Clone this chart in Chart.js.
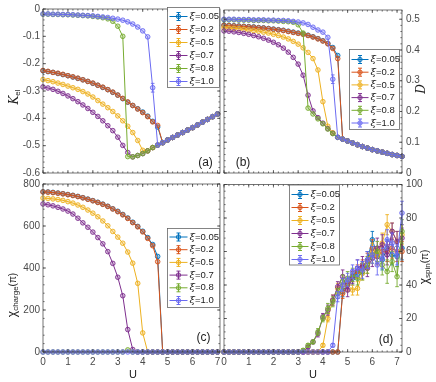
<!DOCTYPE html>
<html>
<head>
<meta charset="utf-8">
<script src="https://cdn.jsdelivr.net/npm/chart.js@4.4.1/dist/chart.umd.min.js"></script>
<style>
  html, body { margin: 0; padding: 0; background: #fff; }
  #wrap { position: relative; width: 436px; height: 382px; }
  #wrap canvas { position: absolute; left: 0; top: 0; }
</style>
</head>
<body>
<div id="wrap">
  <canvas id="pa" width="436" height="382"></canvas>
  <canvas id="pb" width="436" height="382"></canvas>
  <canvas id="pc" width="436" height="382"></canvas>
  <canvas id="pd" width="436" height="382"></canvas>
</div>
<script>
// ---- data ----
const U_LEFT = [0,0.2,0.4,0.6,0.8,1,1.2,1.4,1.6,1.8,2,2.2,2.4,2.6,2.8,3,3.2,3.4,3.6,3.8,4,4.2,4.4,4.6,4.8,5,5.2,5.4,5.6,5.8,6,6.2,6.4,6.6,6.8,7];
const U_RIGHT = [0,0.2,0.4,0.6,0.8,1,1.2,1.4,1.6,1.8,2,2.2,2.4,2.6,2.8,3,3.2,3.4,3.6,3.8,4,4.2,4.4,4.6,4.8,5,5.2,5.4,5.6,5.8,6,6.2,6.4,6.6,6.8,7,7.2];
const XI = ['0.05', '0.2', '0.5', '0.7', '0.8', '1.0'];

const U_TICKS = [0, 1, 2, 3, 4, 5, 6, 7];
const KEL_TICKS = [0, -0.1, -0.2, -0.3, -0.4, -0.5, -0.6];
const D_TICKS = [0, 0.1, 0.2, 0.3, 0.4, 0.5];
const CHARGE_TICKS = [0, 200, 400, 600, 800];
const SPIN_TICKS = [0, 20, 40, 60, 80, 100];

// (a) K_el
const kel005 = [-0.226,-0.229,-0.232,-0.236,-0.240,-0.244,-0.249,-0.254,-0.259,-0.265,-0.272,-0.279,-0.287,-0.295,-0.305,-0.315,-0.328,-0.341,-0.353,-0.365,-0.377,-0.392,-0.411,-0.432,-0.489,-0.479,-0.470,-0.461,-0.452,-0.443,-0.434,-0.424,-0.414,-0.404,-0.394,-0.384];
const kel02  = [-0.225,-0.228,-0.232,-0.235,-0.239,-0.244,-0.248,-0.253,-0.259,-0.265,-0.271,-0.279,-0.286,-0.295,-0.304,-0.315,-0.327,-0.340,-0.353,-0.366,-0.379,-0.394,-0.413,-0.426,-0.489,-0.479,-0.470,-0.461,-0.452,-0.443,-0.434,-0.424,-0.414,-0.404,-0.394,-0.384];
const kel05  = [-0.258,-0.262,-0.266,-0.271,-0.276,-0.282,-0.288,-0.294,-0.302,-0.311,-0.322,-0.335,-0.348,-0.361,-0.375,-0.391,-0.409,-0.429,-0.452,-0.481,-0.517,-0.519,-0.507,-0.498,-0.489,-0.479,-0.470,-0.461,-0.452,-0.443,-0.434,-0.424,-0.414,-0.404,-0.394,-0.384];
const kel07  = [-0.285,-0.289,-0.294,-0.301,-0.309,-0.318,-0.328,-0.339,-0.351,-0.364,-0.378,-0.393,-0.409,-0.427,-0.445,-0.469,-0.499,-0.525,-0.541,-0.536,-0.529,-0.519,-0.507,-0.498,-0.489,-0.479,-0.470,-0.461,-0.452,-0.443,-0.434,-0.424,-0.414,-0.404,-0.394,-0.384];
const kel08  = [-0.019,-0.019,-0.020,-0.020,-0.021,-0.021,-0.022,-0.023,-0.024,-0.025,-0.027,-0.029,-0.032,-0.036,-0.045,-0.063,-0.100,-0.540,-0.541,-0.536,-0.529,-0.519,-0.507,-0.498,-0.489,-0.479,-0.470,-0.461,-0.452,-0.443,-0.434,-0.424,-0.414,-0.404,-0.394,-0.384];
const kel10  = [-0.018,-0.018,-0.019,-0.019,-0.020,-0.020,-0.021,-0.022,-0.023,-0.024,-0.025,-0.027,-0.029,-0.031,-0.034,-0.037,-0.041,-0.047,-0.055,-0.066,-0.080,-0.102,-0.288,-0.498,-0.489,-0.479,-0.470,-0.461,-0.452,-0.443,-0.434,-0.424,-0.414,-0.404,-0.394,-0.384];
const kelErr10 = [0,0,0,0,0,0,0,0,0,0,0,0,0,0,0,0,0,0,0,0,0,0,0.016,0,0,0,0,0,0,0,0,0,0,0,0,0];

// (b) D
const d005 = [0.481,0.480,0.479,0.478,0.477,0.476,0.475,0.473,0.472,0.470,0.468,0.466,0.464,0.461,0.458,0.455,0.452,0.448,0.443,0.437,0.430,0.421,0.408,0.382,0.110,0.104,0.098,0.092,0.086,0.081,0.076,0.072,0.068,0.064,0.060,0.057,0.054];
const d02  = [0.480,0.479,0.478,0.477,0.476,0.475,0.474,0.472,0.471,0.469,0.467,0.465,0.463,0.460,0.457,0.454,0.451,0.447,0.442,0.436,0.429,0.420,0.405,0.372,0.110,0.104,0.098,0.092,0.086,0.081,0.076,0.072,0.068,0.064,0.060,0.057,0.054];
const d05  = [0.472,0.471,0.470,0.469,0.467,0.465,0.463,0.461,0.458,0.455,0.451,0.447,0.442,0.436,0.428,0.419,0.407,0.392,0.372,0.335,0.232,0.152,0.131,0.116,0.110,0.104,0.098,0.092,0.086,0.081,0.076,0.072,0.068,0.064,0.060,0.057,0.054];
const d07  = [0.462,0.461,0.459,0.457,0.454,0.451,0.447,0.443,0.438,0.432,0.425,0.417,0.406,0.393,0.376,0.354,0.318,0.253,0.202,0.180,0.162,0.144,0.129,0.116,0.110,0.104,0.098,0.092,0.086,0.081,0.076,0.072,0.068,0.064,0.060,0.057,0.054];
const d08  = [0.498,0.498,0.498,0.497,0.497,0.497,0.496,0.496,0.496,0.495,0.495,0.494,0.493,0.492,0.490,0.482,0.455,0.211,0.192,0.176,0.160,0.143,0.128,0.116,0.110,0.104,0.098,0.092,0.086,0.081,0.076,0.072,0.068,0.064,0.060,0.057,0.054];
const d10  = [0.500,0.500,0.500,0.499,0.499,0.499,0.498,0.498,0.498,0.497,0.497,0.496,0.496,0.495,0.493,0.491,0.488,0.483,0.474,0.465,0.458,0.441,0.305,0.116,0.110,0.104,0.098,0.092,0.086,0.081,0.076,0.072,0.068,0.064,0.060,0.057,0.054];
const dErr10 = [0,0,0,0,0,0,0,0,0,0,0,0,0,0,0,0,0,0,0,0,0,0,0.014,0,0,0,0,0,0,0,0,0,0,0,0,0,0];

// (c) chi_charge(pi)
const ch005 = [763,762,760,757,754,750,746,741,735,728,721,713,704,694,682,670,655,638,618,598,575,545,512,455,0,0,0,0,0,0,0,0,0,0,0,0];
const ch02  = [762,761,759,756,753,749,745,740,734,727,720,712,703,693,681,668,653,636,616,596,572,541,506,430,0,0,0,0,0,0,0,0,0,0,0,0];
const ch05  = [733,731,729,726,722,716,709,700,689,676,661,644,624,601,574,547,518,476,423,327,91,0,0,0,0,0,0,0,0,0,0,0,0,0,0,0];
const ch07  = [705,701,696,689,681,671,657,637,615,594,571,545,515,478,422,356,268,107,12,0,0,0,0,0,0,0,0,0,0,0,0,0,0,0,0,0];
const ch08  = [0,0,0,0,0,0,0,0,0,0,0,0,0,0,0,0,0,10,0,0,0,0,0,0,0,0,0,0,0,0,0,0,0,0,0,0];
const ch10  = [0,0,0,0,0,0,0,0,0,0,0,0,0,0,0,0,0,0,0,0,0,0,0,0,0,0,0,0,0,0,0,0,0,0,0,0];

// (d) chi_spin(pi) and its error bars
const sp005 = [0,0,0,0,0,0,0,0,0,0,0,0,0,0,0,0,0,0,0,0,0,0,0,0,36,41,44,47,50,55,67,58,55,62,58,57,62];
const sp02  = [0,0,0,0,0,0,0,0,0,0,0,0,0,0,0,0,0,0,0,0,0,0,0,0,35,40,45,48,51,54,62,57,60,60,62,60,60];
const sp05  = [0,0,0,0,0,0,0,0,0,0,0,0,0,0,0,0,0,0,0,0,4,20,31,38,40,40,37,38,47,52,60,58,65,76,72,66,70];
const sp07  = [0,0,0,0,0,0,0,0,0,0,0,0,0,0,0,0,0,3,6,11,21,25,31,39,45,37,45,50,52,50,56,62,64,58,72,66,68];
const sp08  = [0,0,0,0,0,0,0,0,0,0,0,0,0,0,0,0,1,4,6,12,20,26,30,35,42,44,46,44,48,52,58,60,52,48,54,45,72];
const sp10  = [0,0,0,0,0,0,0,0,0,0,0,0,0,0,0,0,0,0,0,0,0,0,4,33,40,43,48,50,49,55,58,52,56,67,65,58,83];
const spErr005 = [0,0,0,0,0,0,0,0,0,0,0,0,0,0,0,0,0,0,0,0,0,0,0,0,3,3,4,4,4,5,5,5,6,5,6,6,7];
const spErr02  = [0,0,0,0,0,0,0,0,0,0,0,0,0,0,0,0,0,0,0,0,0,0,0,0,3,3,3,4,4,5,5,5,5,6,6,6,6];
const spErr05  = [0,0,0,0,0,0,0,0,0,0,0,0,0,0,0,0,0,0,0,0,1,2,3,3,4,4,3,4,4,5,5,5,6,6,5,6,6];
const spErr07  = [0,0,0,0,0,0,0,0,0,0,0,0,0,0,0,0,0,1,1,2,2,3,3,3,4,4,4,5,5,5,5,6,6,6,5,6,6];
const spErr08  = [0,0,0,0,0,0,0,0,0,0,0,0,0,0,0,0,1,1,1,2,2,3,3,3,4,4,4,4,5,5,5,6,6,7,6,6,7];
const spErr10  = [0,0,0,0,0,0,0,0,0,0,0,0,0,0,0,0,0,0,0,0,0,0,1,3,4,4,4,5,5,5,5,6,6,6,6,6,7];

// ---- styling ----
const COLORS = ['#0072BD', '#D95319', '#EDB120', '#7E2F8E', '#77AC30', '#6B6BF2'];
const AXIS = '#3a3a3a';
const SANS = '"Liberation Sans", Arial, sans-serif';
const SERIF = '"DejaVu Serif", "Liberation Serif", serif';

function fade(hex, a) {
  const n = parseInt(hex.slice(1), 16);
  return 'rgba(' + (n >> 16) + ',' + ((n >> 8) & 255) + ',' + (n & 255) + ',' + a + ')';
}

// box round the plot area with inward ticks on all four sides
const framePlugin = {
  id: 'frame',
  afterDraw(chart, args, o) {
    const { ctx, chartArea: a, scales } = chart;
    const x = scales.x, y = scales.y;
    ctx.save();
    ctx.strokeStyle = AXIS;
    ctx.lineWidth = 0.7;
    ctx.beginPath();
    const mark = (px, isX, len) => {
      if (isX) {
        ctx.moveTo(px, a.bottom); ctx.lineTo(px, a.bottom - len);
        ctx.moveTo(px, a.top); ctx.lineTo(px, a.top + len);
      } else {
        ctx.moveTo(a.left, px); ctx.lineTo(a.left + len, px);
        ctx.moveTo(a.right, px); ctx.lineTo(a.right - len, px);
      }
    };
    for (let k = 0; k * o.xMinor <= x.max + 1e-9; k++) mark(x.getPixelForValue(k * o.xMinor), true, 1.6);
    U_TICKS.forEach(v => mark(x.getPixelForValue(v), true, 3));
    for (let k = 0; y.min + k * o.yMinor <= y.max + 1e-9; k++) mark(y.getPixelForValue(y.min + k * o.yMinor), false, 1.6);
    o.yTicks.forEach(v => mark(y.getPixelForValue(v), false, 3));
    ctx.stroke();
    ctx.strokeRect(a.left, a.top, a.right - a.left, a.bottom - a.top);
    ctx.restore();
  }
};

// vertical error bars with caps
const errorPlugin = {
  id: 'errbars',
  afterDatasetDraw(chart, args) {
    const ds = chart.data.datasets[args.index];
    if (!ds.errors) return;
    const ctx = chart.ctx, y = chart.scales.y;
    ctx.save();
    ctx.strokeStyle = ds.borderColor;
    ctx.lineWidth = 0.9;
    ctx.beginPath();
    args.meta.data.forEach((pt, j) => {
      const e = ds.errors[j];
      if (!e) return;
      const v = ds.data[j].y;
      const y1 = y.getPixelForValue(v - e), y2 = y.getPixelForValue(v + e);
      ctx.moveTo(pt.x, y1); ctx.lineTo(pt.x, y2);
      ctx.moveTo(pt.x - 1.8, y1); ctx.lineTo(pt.x + 1.8, y1);
      ctx.moveTo(pt.x - 1.8, y2); ctx.lineTo(pt.x + 1.8, y2);
    });
    ctx.stroke();
    ctx.restore();
  }
};

// MATLAB-like legend box placed inside the axes
const legendPlugin = {
  id: 'xiLegend',
  afterDraw(chart, args, o) {
    const ctx = chart.ctx;
    ctx.save();
    ctx.fillStyle = '#fff';
    ctx.fillRect(o.x, o.y, o.w, o.h);
    ctx.strokeStyle = '#666';
    ctx.lineWidth = 0.8;
    ctx.strokeRect(o.x, o.y, o.w, o.h);
    chart.data.datasets.forEach((ds, i) => {
      const cy = o.y + o.first + i * o.step;
      const x0 = o.x + 2, x1 = x0 + o.line, cx = (x0 + x1) / 2;
      ctx.strokeStyle = ds.borderColor;
      ctx.lineWidth = 1;
      ctx.beginPath();
      ctx.moveTo(x0, cy); ctx.lineTo(x1, cy);
      ctx.moveTo(cx, cy - 4); ctx.lineTo(cx, cy + 4);
      ctx.moveTo(cx - 2, cy - 4); ctx.lineTo(cx + 2, cy - 4);
      ctx.moveTo(cx - 2, cy + 4); ctx.lineTo(cx + 2, cy + 4);
      ctx.stroke();
      ctx.beginPath();
      ctx.arc(cx, cy, 2.2, 0, Math.PI * 2);
      ctx.fillStyle = ds.pointBackgroundColor;
      ctx.fill();
      ctx.lineWidth = 0.9;
      ctx.stroke();
      ctx.fillStyle = '#222';
      ctx.textBaseline = 'middle';
      ctx.textAlign = 'left';
      ctx.font = 'italic 10px ' + SERIF;
      ctx.fillText('ξ', x1 + 2, cy);
      const w = ctx.measureText('ξ').width;
      ctx.font = '9.5px ' + SANS;
      ctx.fillText('=' + XI[i], x1 + 2 + w, cy);
    });
    ctx.restore();
  }
};

// panel letter and axis titles (with subscripts)
function drawRich(ctx, cx, cy, parts, rot) {
  ctx.save();
  ctx.translate(cx, cy);
  if (rot) ctx.rotate(-Math.PI / 2);
  let total = 0;
  parts.forEach(p => { ctx.font = p.f; p.w = ctx.measureText(p.t).width; total += p.w; });
  let x = -total / 2;
  ctx.fillStyle = '#222';
  ctx.textBaseline = 'middle';
  ctx.textAlign = 'left';
  parts.forEach(p => { ctx.font = p.f; ctx.fillText(p.t, x, p.dy || 0); x += p.w; });
  ctx.restore();
}
const notesPlugin = {
  id: 'notes',
  afterDraw(chart, args, o) {
    const ctx = chart.ctx;
    drawRich(ctx, o.tag[0], o.tag[1], [{ t: o.tag[2], f: '12px ' + SANS }], false);
    drawRich(ctx, o.ytitle[0], o.ytitle[1], o.ytitle[2], true);
    if (o.xtitle) drawRich(ctx, o.xtitle[0], o.xtitle[1], [{ t: 'U', f: '11px ' + SANS }], false);
  }
};

function panel(id, c) {
  const datasets = c.series.map((vals, i) => ({
    label: 'ξ=' + XI[i],
    data: vals.map((v, j) => ({ x: c.u[j], y: v })),
    errors: c.errors ? c.errors[i] : null,
    borderColor: COLORS[i],
    backgroundColor: fade(COLORS[i], 0.3),
    pointBackgroundColor: fade(COLORS[i], 0.3),
    pointBorderColor: COLORS[i],
    borderWidth: 1,
    pointRadius: 2.3,
    pointBorderWidth: 0.9,
    tension: 0,
    clip: false,
    order: 5 - i
  }));
  const tickFont = { family: SANS, size: 10 };
  return new Chart(document.getElementById(id), {
    type: 'line',
    data: { datasets },
    options: {
      responsive: false,
      animation: false,
      devicePixelRatio: 1,
      events: [],
      layout: { padding: c.pad },
      plugins: {
        legend: { display: false },
        tooltip: { enabled: false },
        frame: { xMinor: 0.2, yMinor: c.yMinor, yTicks: c.yTicks },
        xiLegend: c.legend,
        notes: c.notes
      },
      scales: {
        x: {
          type: 'linear', min: 0, max: c.xMax,
          grid: { display: false, drawTicks: false }, border: { display: false },
          ticks: { display: c.xLabels, font: tickFont, color: '#4a4a4a', padding: 4, maxRotation: 0, callback: v => String(v) },
          afterBuildTicks: s => { s.ticks = U_TICKS.map(v => ({ value: v })); },
          afterFit: s => { s.height = c.xH; }
        },
        y: {
          type: 'linear', position: c.yPos, min: c.yMin, max: c.yMax,
          grid: { display: false, drawTicks: false }, border: { display: false },
          ticks: { font: tickFont, color: '#4a4a4a', padding: c.yPos === 'left' ? 3 : 4, callback: v => String(v) },
          afterBuildTicks: s => { s.ticks = c.yTicks.map(v => ({ value: v })); },
          afterFit: s => { s.width = c.yW; }
        }
      }
    },
    plugins: [framePlugin, errorPlugin, legendPlugin, notesPlugin]
  });
}

panel('pa', {
  u: U_LEFT, series: [kel005, kel02, kel05, kel07, kel08, kel10],
  errors: [null, null, null, null, null, kelErr10],
  xMax: 7.1, yMin: -0.6, yMax: 0, yTicks: KEL_TICKS, yMinor: 0.02, yPos: 'left',
  pad: { left: 0, top: 6, right: 216, bottom: 209 }, xH: 0, yW: 43, xLabels: false,
  legend: { x: 167.5, y: 7.5, w: 52, h: 80, first: 9, step: 13, line: 18 },
  notes: {
    tag: [205.5, 163, '(a)'],
    ytitle: [15, 97, [{ t: 'K', f: 'italic 12px ' + SERIF }, { t: 'el', f: '8px ' + SANS, dy: 3 }]]
  }
});

panel('pb', {
  u: U_RIGHT, series: [d005, d02, d05, d07, d08, d10],
  errors: [null, null, null, null, null, dErr10],
  xMax: 7.2, yMin: 0, yMax: 0.53, yTicks: D_TICKS, yMinor: 0.02, yPos: 'right',
  pad: { left: 224, top: 6, right: 0, bottom: 209 }, xH: 0, yW: 34, xLabels: false,
  legend: { x: 349.5, y: 49.5, w: 50, h: 80, first: 10, step: 12.7, line: 17 },
  notes: {
    tag: [243, 163, '(b)'],
    ytitle: [422, 89, [{ t: 'D', f: 'italic 12px ' + SERIF }]]
  }
});

panel('pc', {
  u: U_LEFT, series: [ch005, ch02, ch05, ch07, ch08, ch10],
  xMax: 7.1, yMin: 0, yMax: 800, yTicks: CHARGE_TICKS, yMinor: 40, yPos: 'left',
  pad: { left: 0, top: 184, right: 216, bottom: 0 }, xH: 30, yW: 43, xLabels: true,
  legend: { x: 167.5, y: 228.5, w: 52, h: 79, first: 8.5, step: 12.7, line: 18 },
  notes: {
    tag: [203.5, 338, '(c)'],
    ytitle: [13, 295, [{ t: 'χ', f: '12px ' + SANS }, { t: 'charge', f: '8px ' + SANS, dy: 3 }, { t: '(π)', f: '10px ' + SANS }]],
    xtitle: [133, 375]
  }
});

panel('pd', {
  u: U_RIGHT, series: [sp005, sp02, sp05, sp07, sp08, sp10],
  errors: [spErr005, spErr02, spErr05, spErr07, spErr08, spErr10],
  xMax: 7.2, yMin: 0, yMax: 100, yTicks: SPIN_TICKS, yMinor: 4, yPos: 'right',
  pad: { left: 224, top: 184.5, right: 0, bottom: 0 }, xH: 30, yW: 34, xLabels: true,
  legend: { x: 289.5, y: 185, w: 50, h: 80, first: 9.5, step: 13, line: 17 },
  notes: {
    tag: [386, 340, '(d)'],
    ytitle: [425, 267, [{ t: 'χ', f: '12px ' + SANS }, { t: 'spin', f: '8px ' + SANS, dy: 3 }, { t: '(π)', f: '10px ' + SANS }]],
    xtitle: [313, 375]
  }
});
</script>
</body>
</html>
